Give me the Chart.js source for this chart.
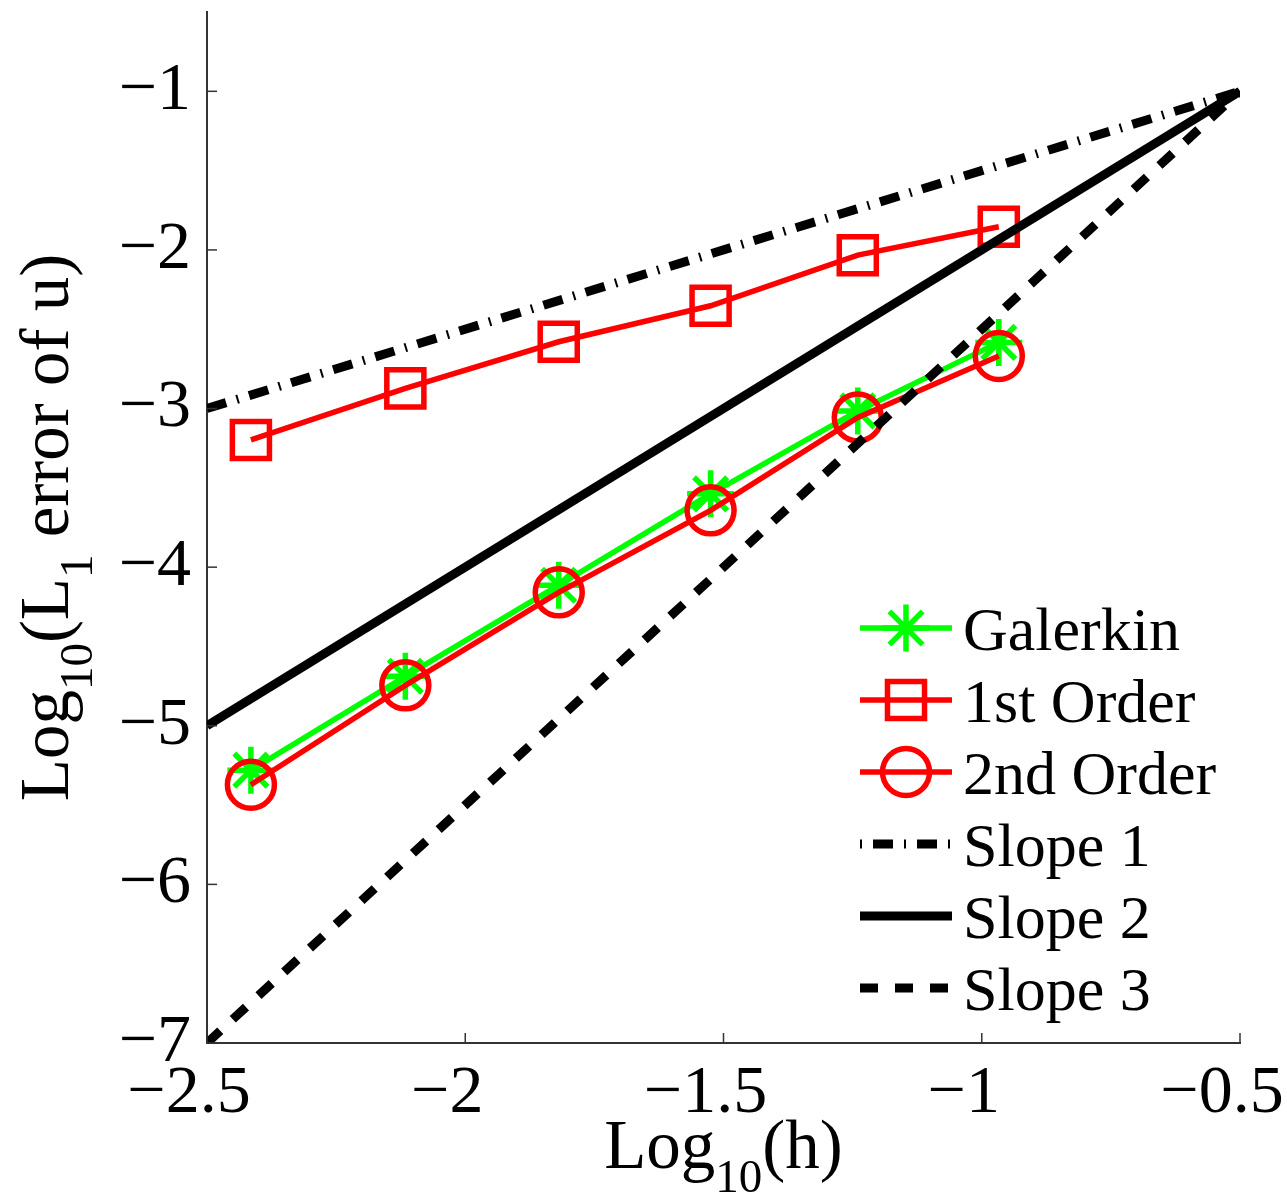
<!DOCTYPE html>
<html><head><meta charset="utf-8">
<script src="https://cdn.jsdelivr.net/npm/chart.js@4.4.1/dist/chart.umd.min.js"></script>
<style>html,body{margin:0;padding:0;background:#fff;}#wrap{width:1287px;height:1194px;position:relative;}</style>
</head><body><div id="wrap"><canvas id="c"></canvas></div>
<script>
// ---- data ----
const logH      = [-2.415, -2.116, -1.819, -1.525, -1.240, -0.967];
const galerkin  = [-5.280, -4.688, -4.114, -3.538, -3.015, -2.583];
const firstOrd  = [-3.198, -2.873, -2.579, -2.352, -2.033, -1.854];
const secondOrd = [-5.372, -4.745, -4.159, -3.642, -3.056, -2.669];
const slopeX    = [-2.5, -0.5];
const slope1    = [-3, -1];
const slope2    = [-5, -1];
const slope3    = [-7, -1];
const seriesLabels = ['Galerkin', '1st Order', '2nd Order', 'Slope 1', 'Slope 2', 'Slope 3'];
const xTicks = [-2.5, -2, -1.5, -1, -0.5];
const yTicks = [-7, -6, -5, -4, -3, -2, -1];
const xTitle = ['Log', '10', '(h)'];
const yTitle = ['Log', '10', '(L', '1', ' error of u)'];

const pts = (xs, ys) => xs.map((x, i) => ({x: x, y: ys[i]}));
const fmt = v => (v < 0 ? '\u2212' : '') + String(Math.abs(v));
const SERIF = '"Liberation Serif", "Times New Roman", serif';

const datasets = [
  {label: seriesLabels[0], data: pts(logH, galerkin), borderColor: '#00ff00', borderWidth: 5.5,
   pointStyle: 'star', pointRadius: 23.5, pointBorderWidth: 5.5, pointBorderColor: '#00ff00',
   pointBackgroundColor: 'rgba(0,0,0,0)', order: 6},
  {label: seriesLabels[1], data: pts(logH, firstOrd), borderColor: '#ff0000', borderWidth: 5.5,
   pointStyle: 'rect', pointRadius: 26.2, pointBorderWidth: 5.5, pointBorderColor: '#ff0000',
   pointBackgroundColor: 'rgba(0,0,0,0)', order: 5},
  {label: seriesLabels[2], data: pts(logH, secondOrd), borderColor: '#ff0000', borderWidth: 5.5,
   pointStyle: 'circle', pointRadius: 23.5, pointBorderWidth: 5.5, pointBorderColor: '#ff0000',
   pointBackgroundColor: 'rgba(0,0,0,0)', order: 4},
  {label: seriesLabels[3], data: pts(slopeX, slope1), borderColor: '#000', borderWidth: 9,
   borderDash: [20, 11, 2, 11], pointRadius: 0, order: 3},
  {label: seriesLabels[4], data: pts(slopeX, slope2), borderColor: '#000', borderWidth: 9,
   pointRadius: 0, order: 2},
  {label: seriesLabels[5], data: pts(slopeX, slope3), borderColor: '#000', borderWidth: 9,
   borderDash: [18, 17], pointRadius: 0, order: 1}
];
datasets.forEach(d => { d.fill = false; d.tension = 0; d.borderCapStyle = 'butt'; d.pointHoverRadius = d.pointRadius; });

function drawMarker(ctx, style, r, x, y) {
  ctx.beginPath();
  if (style === 'star') {
    const d = r * Math.SQRT1_2;
    ctx.moveTo(x - r, y); ctx.lineTo(x + r, y);
    ctx.moveTo(x, y - r); ctx.lineTo(x, y + r);
    ctx.moveTo(x - d, y - d); ctx.lineTo(x + d, y + d);
    ctx.moveTo(x - d, y + d); ctx.lineTo(x + d, y - d);
  } else if (style === 'rect') {
    const s = r * Math.SQRT1_2;
    ctx.rect(x - s, y - s, 2 * s, 2 * s);
  } else if (style === 'circle') {
    ctx.arc(x, y, r, 0, Math.PI * 2);
  }
  ctx.stroke();
}

const decorPlugin = {
  id: 'decor',
  afterDraw(chart) {
    const ctx = chart.ctx, xs = chart.scales.x, ys = chart.scales.y, a = chart.chartArea;
    ctx.save();
    // inward tick marks
    ctx.strokeStyle = '#333'; ctx.lineWidth = 1.5; ctx.setLineDash([]);
    xTicks.forEach(v => { const p = xs.getPixelForValue(v); ctx.beginPath(); ctx.moveTo(p, a.bottom); ctx.lineTo(p, a.bottom - 10); ctx.stroke(); });
    yTicks.forEach(v => { const p = ys.getPixelForValue(v); ctx.beginPath(); ctx.moveTo(a.left, p); ctx.lineTo(a.left + 10, p); ctx.stroke(); });

    // legend
    const x0 = 860, x1 = 952, xm = 906, xt = 963, y0 = 628, dy = 72;
    chart.data.datasets.forEach((ds, i) => {
      const y = y0 + i * dy;
      ctx.strokeStyle = ds.borderColor; ctx.lineWidth = ds.borderWidth; ctx.lineCap = 'butt';
      const dash = ds.borderDash || [];
      ctx.setLineDash(dash);
      ctx.lineDashOffset = dash.length === 4 ? dash[0] + dash[1] : 0;
      ctx.beginPath(); ctx.moveTo(x0, y); ctx.lineTo(x1, y); ctx.stroke();
      ctx.setLineDash([]); ctx.lineDashOffset = 0;
      if (ds.pointRadius > 0) {
        ctx.lineWidth = ds.pointBorderWidth; ctx.strokeStyle = ds.pointBorderColor;
        drawMarker(ctx, ds.pointStyle, ds.pointRadius, xm, y);
      }
      ctx.fillStyle = '#000'; ctx.font = '62px ' + SERIF; ctx.textBaseline = 'alphabetic'; ctx.textAlign = 'left';
      ctx.fillText(ds.label, xt, y + 22);
    });

    // axis titles with subscripts
    const mainF = '69px ' + SERIF, subF = '47px ' + SERIF, subDrop = 24;
    function drawParts(parts, cx, base) {
      let w = 0; const ws = [];
      parts.forEach((t, i) => { ctx.font = (i % 2 ? subF : mainF); const m = ctx.measureText(t).width; ws.push(m); w += m; });
      let x = cx - w / 2;
      parts.forEach((t, i) => { ctx.font = (i % 2 ? subF : mainF); ctx.fillText(t, x, base + (i % 2 ? subDrop : 0)); x += ws[i]; });
    }
    ctx.fillStyle = '#000'; ctx.textAlign = 'left'; ctx.textBaseline = 'alphabetic';
    drawParts(xTitle, (a.left + a.right) / 2, 1168);
    ctx.save();
    ctx.translate(68, (a.top + a.bottom) / 2); ctx.rotate(-Math.PI / 2);
    drawParts(yTitle, 0, 0);
    ctx.restore();
    ctx.restore();
  }
};

new Chart(document.getElementById('c'), {
  type: 'line',
  data: {datasets: datasets},
  options: {
    responsive: true, maintainAspectRatio: false, animation: false, events: [],
    layout: {autoPadding: false, padding: {left: 0, top: 12, right: 47, bottom: 0}},
    plugins: {legend: {display: false}, tooltip: {enabled: false}},
    scales: {
      x: {type: 'linear', min: -2.5, max: -0.5,
          afterBuildTicks: s => { s.ticks = xTicks.map(v => ({value: v})); },
          afterFit: s => { s.height = 151; s.paddingLeft = 0; s.paddingRight = 0; },
          grid: {display: false, drawTicks: false},
          border: {display: true, color: '#333', width: 2},
          ticks: {color: '#000', font: {family: SERIF, size: 68}, padding: 10, labelOffset: -18,
                  maxRotation: 0, autoSkip: false, callback: v => fmt(v)}},
      y: {type: 'linear', min: -7, max: -0.5,
          afterBuildTicks: s => { s.ticks = yTicks.map(v => ({value: v})); },
          afterFit: s => { s.width = 207; s.paddingTop = 0; s.paddingBottom = 0; },
          grid: {display: false, drawTicks: false},
          border: {display: true, color: '#333', width: 2},
          ticks: {color: '#000', font: {family: SERIF, size: 68}, padding: 16, autoSkip: false, callback: v => fmt(v)}}
    }
  },
  plugins: [decorPlugin]
});
</script></body></html>
